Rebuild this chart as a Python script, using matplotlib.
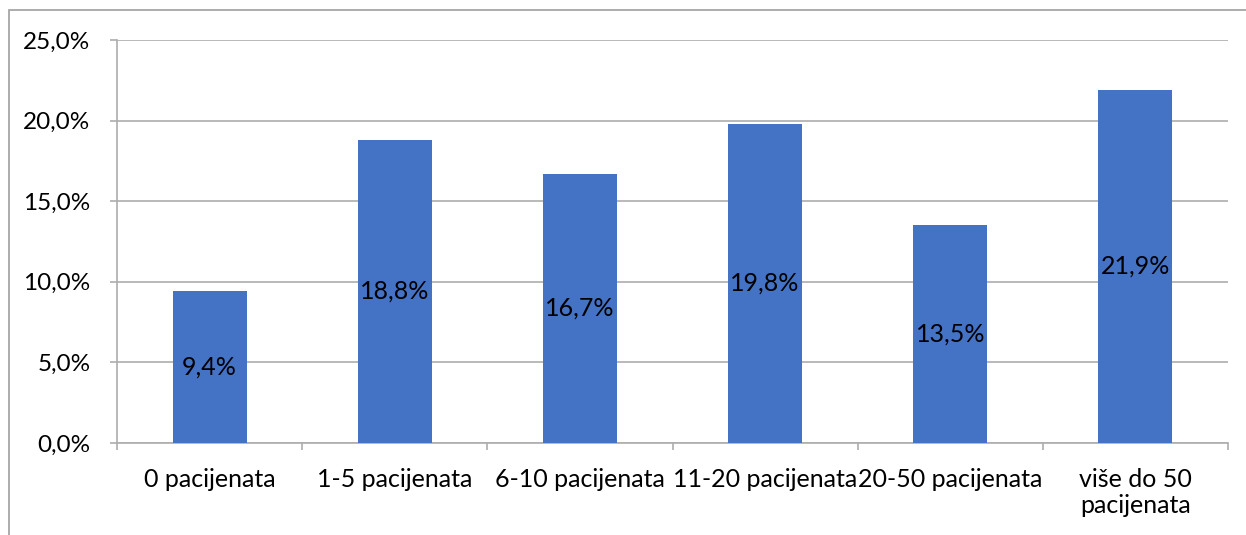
import matplotlib
matplotlib.use("Agg")
import matplotlib.pyplot as plt
from matplotlib.patches import Rectangle
from matplotlib.ticker import FuncFormatter, MultipleLocator

categories = ["0 pacijenata", "1-5 pacijenata", "6-10 pacijenata", "11-20 pacijenata",
              "20-50 pacijenata", "više do 50\npacijenata"]
values = [9.4, 18.8, 16.7, 19.8, 13.5, 21.9]

plt.rcParams['font.family'] = ['Lato', 'DejaVu Sans']

W, H = 1246, 535
fig = plt.figure(figsize=(W / 100, H / 100), dpi=100)
ax = fig.add_axes([117 / W, 92 / H, (1228 - 117) / W, 403 / H])

bar_color = "#4472C4"
grid_color = "#ADADAD"
fs = 18

x = range(len(values))
ax.bar(x, values, width=0.4, color=bar_color, zorder=3)
for xi, v in zip(x, values):
    ax.text(xi, v / 2, f"{v:.1f}%".replace(".", ","), ha="center", va="center",
            fontsize=fs, color="black", zorder=4)

ax.set_xlim(-0.5, len(values) - 0.5)
ax.set_ylim(0, 25)
ax.yaxis.set_major_locator(MultipleLocator(5))
ax.yaxis.set_major_formatter(FuncFormatter(lambda v, p: f"{v:.1f}%".replace(".", ",")))
ax.grid(axis="y", color=grid_color, linewidth=1.2, zorder=0)

ax.set_xticks(list(x))
ax.set_xticklabels(categories, fontsize=fs, linespacing=1.15)
ax.set_xticks([i - 0.5 for i in range(len(values) + 1)], minor=True)
ax.tick_params(axis="x", which="major", length=0, pad=18)
ax.tick_params(axis="x", which="minor", length=5, color=grid_color, width=1.2)
ax.tick_params(axis="y", length=5, color=grid_color, width=1.2, labelsize=17.5, pad=14)

for s in ["top", "right"]:
    ax.spines[s].set_visible(False)
for s in ["left", "bottom"]:
    ax.spines[s].set_color(grid_color)
    ax.spines[s].set_linewidth(1.2)

fig.patches.append(Rectangle((9 / W, -0.2), 1.5, 1.2 - 10 / H, transform=fig.transFigure,
                             fill=False, edgecolor="#A6A6A6", linewidth=1.3))

fig.savefig("out.png", dpi=100, facecolor="white")
